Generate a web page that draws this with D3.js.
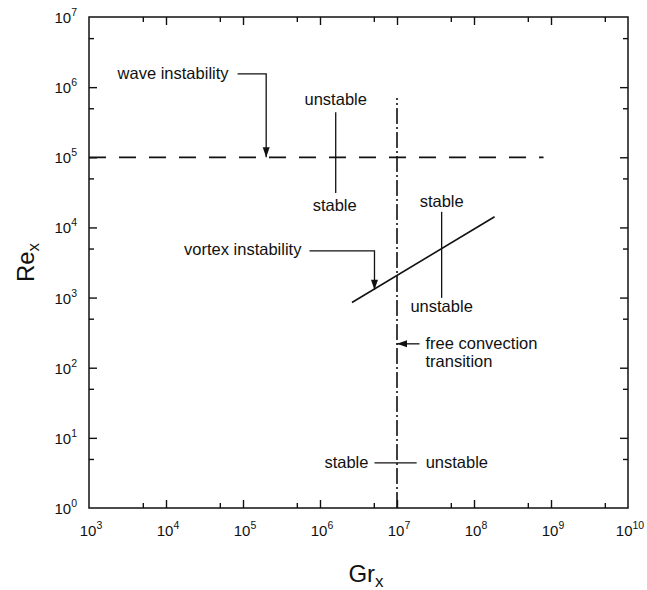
<!DOCTYPE html>
<html>
<head>
<meta charset="utf-8">
<script src="https://cdn.jsdelivr.net/npm/d3@7"></script>
<style>
  html, body { margin: 0; padding: 0; background: #fff; }
  svg { display: block; font-family: "Liberation Sans", Arial, Helvetica, sans-serif; }
</style>
</head>
<body>
<svg id="chart" width="647" height="590"></svg>
<script>
// Stability regimes of a heated boundary layer, Re_x vs Gr_x (log-log)
const grDomain = [1e3, 1e10];
const reDomain = [1e0, 1e7];
const grMajorTicks = [1e3, 1e4, 1e5, 1e6, 1e7, 1e8, 1e9, 1e10];
const reMajorTicks = [1e0, 1e1, 1e2, 1e3, 1e4, 1e5, 1e6, 1e7];
const grMinorTicks = [5e3, 5e4, 5e5, 5e6, 5e7, 5e8, 5e9];
const reMinorTicks = [5e0, 5e1, 5e2, 5e3, 5e4, 5e5, 5e6];

// wave instability boundary (horizontal dashed line)
const waveGr = [1e3, 8e8];
const waveRe = [1e5, 1e5];
// free convection transition (vertical dash-dot line)
const transitionGr = [1e7, 1e7];
const transitionRe = [1e0, 7e5];
// vortex instability boundary
const vortexGr = [2.6e6, 1.85e8];
const vortexRe = [850, 1.42e4];

// stable / unstable markers across each boundary
const waveMarkGr = [1.6e6, 1.6e6];
const waveMarkRe = [4.4e5, 3.1e4];
const vortexMarkGr = [3.8e7, 3.8e7];
const vortexMarkRe = [1.67e4, 990];
const transMarkGr = [5.1e6, 1.8e7];
const transMarkRe = [4.4, 4.4];

// leader arrows: [Gr, Re] points, last point is the arrow tip
const waveArrow = [[8.5e4, 1.55e6], [2e5, 1.55e6], [2e5, 1e5]];
const vortexArrow = [[7.3e5, 4630], [5.1e6, 4630], [5.1e6, 1290]];
const transArrow = [[1.96e7, 219], [1e7, 219]];

const svg = d3.select("#chart");
const margin = { left: 89, right: 19, top: 17, bottom: 82 };
const W = 647, H = 590;
const x = d3.scaleLog().domain(grDomain).range([margin.left, W - margin.right]);
const y = d3.scaleLog().domain(reDomain).range([H - margin.bottom, margin.top]);

const ink = "#111";

// frame
svg.append("rect")
  .attr("x", x.range()[0]).attr("y", y.range()[1])
  .attr("width", x.range()[1] - x.range()[0])
  .attr("height", y.range()[0] - y.range()[1])
  .attr("fill", "none").attr("stroke", ink).attr("stroke-width", 1.5);

// ticks pointing inward on all four sides
function tickAxes(axisFn, scale, vals, size, transform) {
  const g = svg.append("g").attr("transform", transform)
    .call(axisFn(scale).tickValues(vals).tickSize(size).tickFormat(""));
  g.select(".domain").remove();
  g.selectAll(".tick line").attr("stroke", ink).attr("stroke-width", 1.4);
  return g;
}
const x0 = x.range()[0], x1 = x.range()[1], y0 = y.range()[0], y1 = y.range()[1];
tickAxes(d3.axisBottom, x, grMajorTicks.slice(1, -1), -8, `translate(0,${y0})`);
tickAxes(d3.axisBottom, x, grMinorTicks, -5, `translate(0,${y0})`);
tickAxes(d3.axisTop, x, grMajorTicks.slice(1, -1), -8, `translate(0,${y1})`);
tickAxes(d3.axisTop, x, grMinorTicks, -5, `translate(0,${y1})`);
tickAxes(d3.axisLeft, y, reMajorTicks.slice(1, -1), -8, `translate(${x0},0)`);
tickAxes(d3.axisLeft, y, reMinorTicks, -5, `translate(${x0},0)`);
tickAxes(d3.axisRight, y, reMajorTicks.slice(1, -1), -8, `translate(${x1},0)`);
tickAxes(d3.axisRight, y, reMinorTicks, -5, `translate(${x1},0)`);

// power-of-ten tick labels
function powLabel(sel) {
  sel.append("tspan").attr("font-size", 15).text("10");
  sel.append("tspan").attr("font-size", 10.5).attr("dy", -7)
    .text(d => Math.round(Math.log10(d)));
}
svg.append("g").selectAll("text").data(grMajorTicks).join("text")
  .attr("x", d => x(d) + 2).attr("y", y0 + 28)
  .attr("text-anchor", "middle").attr("fill", ink)
  .call(powLabel);
svg.append("g").selectAll("text").data(reMajorTicks).join("text")
  .attr("x", x0 - 12).attr("y", d => y(d) + 6)
  .attr("text-anchor", "end").attr("fill", ink)
  .call(powLabel);

// axis titles
const xt = svg.append("text").attr("x", 366).attr("y", 582)
  .attr("text-anchor", "middle").attr("fill", ink);
xt.append("tspan").attr("font-size", 24).text("Gr");
xt.append("tspan").attr("font-size", 17).attr("dy", 5).text("x");

const yt = svg.append("text")
  .attr("transform", `translate(34,${(y0 + y1) / 2}) rotate(-90)`)
  .attr("text-anchor", "middle").attr("fill", ink);
yt.append("tspan").attr("font-size", 24).text("Re");
yt.append("tspan").attr("font-size", 17).attr("dy", 5).text("x");

const line = d3.line().x(d => x(d[0])).y(d => y(d[1]));
const pts = (gs, rs) => gs.map((g, i) => [g, rs[i]]);

// boundaries
svg.append("path").attr("d", line(pts(waveGr, waveRe)))
  .attr("fill", "none").attr("stroke", ink).attr("stroke-width", 1.8)
  .attr("stroke-dasharray", "17,13");
svg.append("path").attr("d", line(pts(transitionGr, transitionRe)))
  .attr("fill", "none").attr("stroke", ink).attr("stroke-width", 1.6)
  .attr("stroke-dasharray", "16,3,2,3");
svg.append("path").attr("d", line(pts(vortexGr, vortexRe)))
  .attr("fill", "none").attr("stroke", ink).attr("stroke-width", 1.6);

// stable/unstable markers
[[waveMarkGr, waveMarkRe], [vortexMarkGr, vortexMarkRe], [transMarkGr, transMarkRe]]
  .forEach(([gs, rs]) => {
    svg.append("path").attr("d", line(pts(gs, rs)))
      .attr("fill", "none").attr("stroke", ink).attr("stroke-width", 1.3);
  });

// arrows
function arrow(points) {
  svg.append("path").attr("d", line(points))
    .attr("fill", "none").attr("stroke", ink).attr("stroke-width", 1.3);
  const tip = points[points.length - 1], prev = points[points.length - 2];
  const tx = x(tip[0]), ty = y(tip[1]), px = x(prev[0]), py = y(prev[1]);
  const ang = Math.atan2(ty - py, tx - px);
  const L = 10, Wd = 3.5;
  const bx = tx - L * Math.cos(ang), by = ty - L * Math.sin(ang);
  const nx = -Math.sin(ang) * Wd, ny = Math.cos(ang) * Wd;
  svg.append("path")
    .attr("d", `M${tx},${ty}L${bx + nx},${by + ny}L${bx - nx},${by - ny}Z`)
    .attr("fill", ink);
}
arrow(waveArrow);
arrow(vortexArrow);
arrow(transArrow);

// annotation text
const fs = 16.5;
function label(txt, gx, re, anchor, dx, dy) {
  svg.append("text").attr("x", x(gx) + (dx || 0)).attr("y", y(re) + (dy || 0))
    .attr("text-anchor", anchor).attr("font-size", fs).attr("fill", ink).text(txt);
}
label("wave instability", waveArrow[0][0], waveArrow[0][1], "end", -9, 5);
label("vortex instability", vortexArrow[0][0], vortexArrow[0][1], "end", -8, 4);
label("unstable", waveMarkGr[0], waveMarkRe[0], "middle", 0, -7);
label("stable", waveMarkGr[1], waveMarkRe[1], "middle", -1, 18);
label("stable", vortexMarkGr[0], vortexMarkRe[0], "middle", 0, -5);
label("unstable", vortexMarkGr[1], vortexMarkRe[1], "middle", 0, 14);
label("stable", transMarkGr[0], transMarkRe[0], "end", -6, 5);
label("unstable", transMarkGr[1], transMarkRe[1], "start", 9, 5);
label("free convection", transArrow[0][0], transArrow[0][1], "start", 6, 5);
label("transition", transArrow[0][0], transArrow[0][1], "start", 6, 23);
</script>
</body>
</html>
